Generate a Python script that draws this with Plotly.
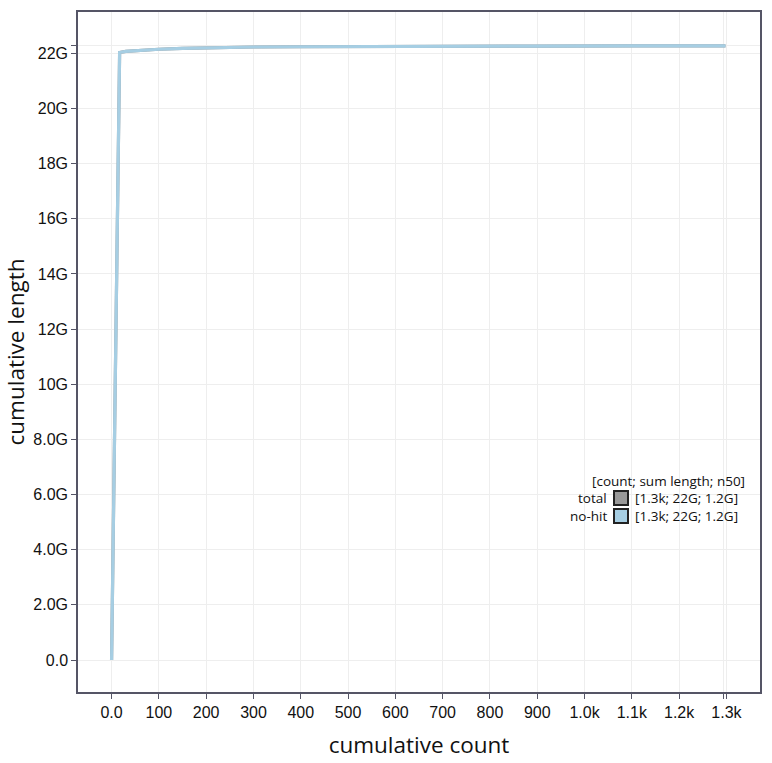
import plotly.graph_objects as go

# data
count = [0, 17, 30, 50, 75, 100, 150, 200, 300, 400, 500, 700, 900, 1100, 1298]
length_g = [0.0, 22.03, 22.07, 22.10, 22.13, 22.15, 22.18, 22.20, 22.23, 22.24, 22.25, 22.26, 22.265, 22.27, 22.27]
length = [v * 1e9 for v in length_g]

y_ticks = [0, 2e9, 4e9, 6e9, 8e9, 10e9, 12e9, 14e9, 16e9, 18e9, 20e9, 22e9]
y_labels = ["0.0", "2.0G", "4.0G", "6.0G", "8.0G", "10G", "12G", "14G", "16G", "18G", "20G", "22G"]
x_ticks = [0, 100, 200, 300, 400, 500, 600, 700, 800, 900, 1000, 1100, 1200, 1300]
x_labels = ["0.0", "100", "200", "300", "400", "500", "600", "700", "800", "900", "1.0k", "1.1k", "1.2k", "1.3k"]

legend_title = "[count; sum length; n50]"
legend_names = ["total", "no-hit"]
legend_vals = ["[1.3k; 22G; 1.2G]", "[1.3k; 22G; 1.2G]"]
colors = ["#999999", "#a6cee3"]

fig = go.Figure()
fig.add_trace(go.Scatter(x=count, y=length, mode="lines",
                         line=dict(color=colors[0], width=3.2), showlegend=False, hoverinfo="skip"))
fig.add_trace(go.Scatter(x=count, y=length, mode="lines",
                         line=dict(color=colors[1], width=3.2), showlegend=False))

x_max = 1293
y_max = max(length)

axis_common = dict(showline=True, mirror=True, linecolor="#555566", linewidth=1.5,
                   showgrid=True, gridcolor="#eeeeee", gridwidth=1, zeroline=False,
                   ticks="outside", ticklen=5, tickcolor="#555566", automargin=False,
                   tickfont=dict(family="Liberation Sans, Arial", size=16, color="#111111"))

fig.update_xaxes(range=[-71, 1371], tickvals=x_ticks + [x_max], ticktext=x_labels + [""],
                 title=dict(text="cumulative count", font=dict(family="Open Sans", size=22.5, color="#111111"), standoff=17),
                 **axis_common)
fig.update_yaxes(range=[-1.16e9, 23.5e9], tickvals=y_ticks + [y_max], ticktext=y_labels + [""],
                 title=dict(text="cumulative length", font=dict(family="Open Sans", size=22.5, color="#111111"), standoff=8),
                 **axis_common)

def px(x):
    return (x - 78) / 682

def py(y):
    return (692 - y) / 680

# legend background
fig.add_shape(type="rect", xref="paper", yref="paper", x0=px(510), x1=px(755),
              y0=py(535), y1=py(487), fillcolor="white", line=dict(width=0), layer="between")

lf = dict(family="Open Sans", size=13.5, color="#111111")
fig.add_annotation(xref="paper", yref="paper", x=px(747), y=py(481), text=legend_title,
                   showarrow=False, xanchor="right", yanchor="middle", font=lf)
for i, (n, v, c) in enumerate(zip(legend_names, legend_vals, colors)):
    yc = 498 + 18 * i
    fig.add_shape(type="rect", xref="paper", yref="paper", x0=px(614), x1=px(628),
                  y0=py(yc + 7), y1=py(yc - 7), fillcolor=c, line=dict(color="#222222", width=2), layer="above")
    fig.add_annotation(xref="paper", yref="paper", x=px(609), y=py(yc), text=n,
                       showarrow=False, xanchor="right", yanchor="middle", font=lf)
    fig.add_annotation(xref="paper", yref="paper", x=px(633), y=py(yc), text=v,
                       showarrow=False, xanchor="left", yanchor="middle", font=lf)

fig.update_layout(width=772, height=763, margin=dict(l=78, r=12, t=12, b=71),
                  plot_bgcolor="white", paper_bgcolor="white")

fig.write_html("out.html")
